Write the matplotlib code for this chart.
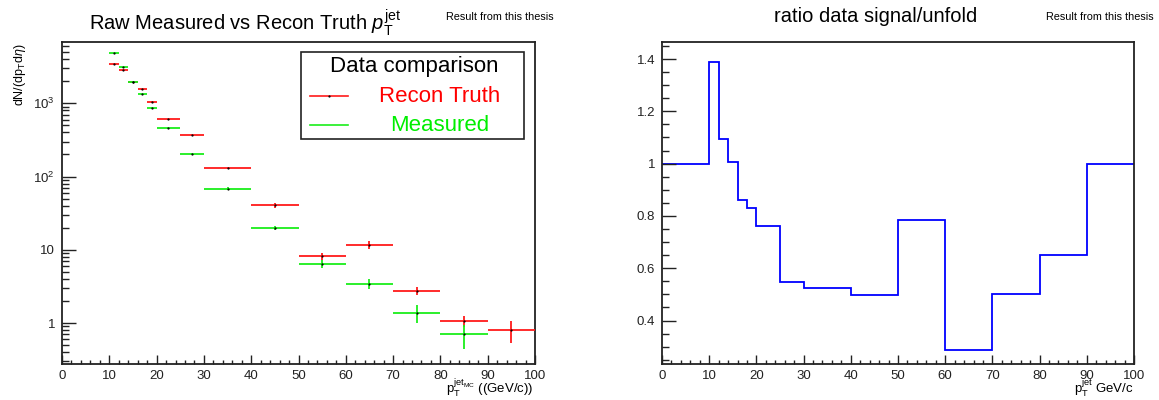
import matplotlib
matplotlib.use("Agg")
import matplotlib.pyplot as plt
import numpy as np
from matplotlib.patches import Rectangle
from matplotlib.ticker import MultipleLocator, FixedLocator, FixedFormatter, LogLocator, NullFormatter, FuncFormatter

plt.rcParams["font.family"] = ["Liberation Sans", "DejaVu Sans"]
plt.rcParams["mathtext.fontset"] = "custom"
plt.rcParams["mathtext.rm"] = "Liberation Sans"
plt.rcParams["mathtext.it"] = "Liberation Sans:italic"
plt.rcParams["mathtext.bf"] = "Liberation Sans:bold"

# ==========================
# Data
# ==========================

# bin edges of the jet pT spectra (GeV/c)
edges = [10, 12, 14, 16, 18, 20, 25, 30, 40, 50, 60, 70, 80, 90, 100]

truth = [3470, 2820, 1970, 1550, 1050, 611, 373, 130, 40.6, 8.2, 11.8, 2.75, 1.06, 0.81]
truth_err = [30, 25, 20, 16, 13, 7, 5, 4, 3, 0.85, 1.4, 0.36, 0.18, 0.27]

measured = [4850, 3100, 1950, 1340, 871, 464, 205, 68.4, 20.1, 6.43, 3.46, 1.39, 0.70]
measured_err = [40, 30, 20, 15, 11, 6, 4, 3, 1.3, 0.8, 0.57, 0.38, 0.25]

# ratio histogram
ratio_edges = [0, 10, 12, 14, 16, 18, 20, 25, 30, 40, 50, 60, 70, 80, 90, 100]
ratio = [1.0, 1.39, 1.095, 1.005, 0.86, 0.83, 0.763, 0.548, 0.526, 0.497,
         0.785, 0.289, 0.50, 0.652, 1.0]

# ==========================
# Figure
# ==========================

W, H = 1159, 400
fig = plt.figure(figsize=(W / 100, H / 100), dpi=100)


def fx(px):
    return px / W


def fy(py):
    return 1 - py / H


ax1 = fig.add_axes([fx(62), fy(364), fx(535) - fx(62), fy(42) - fy(364)])
ax2 = fig.add_axes([fx(662), fy(364), fx(1134) - fx(662), fy(42) - fy(364)])


def root_style(ax):
    for s in ax.spines.values():
        s.set_linewidth(1.3)
        s.set_color("#222222")
    ax.tick_params(which="both", direction="in", top=False, right=False,
                   labelsize=9.5, width=1.0, colors="#222222")
    ax.tick_params(axis="x", which="major", length=6.7, pad=4)
    ax.tick_params(axis="x", which="minor", length=3.2)
    ax.tick_params(axis="y", which="major", length=10, pad=5)
    ax.tick_params(axis="y", which="minor", length=5)
    ax.xaxis.set_major_locator(MultipleLocator(10))
    ax.xaxis.set_minor_locator(MultipleLocator(2))
    ax.set_xlim(0, 100)


# -------- Left: spectra --------

e = np.array(edges, dtype=float)
centers = 0.5 * (e[:-1] + e[1:])
half = 0.5 * (e[1:] - e[:-1])
nm = len(measured)

ax1.errorbar(centers, truth, xerr=half, yerr=truth_err, fmt=".", ms=1.2,
             color="k", ecolor="#ff1a1a", elinewidth=1.3, capsize=0, zorder=3)
ax1.errorbar(centers[:nm], measured, xerr=half[:nm], yerr=measured_err, fmt=".",
             ms=1.2, color="k", ecolor="#1aee1a", elinewidth=1.3, capsize=0, zorder=3)

ax1.set_yscale("log")
ax1.set_ylim(0.277, 6855)
root_style(ax1)
ax1.yaxis.set_major_locator(FixedLocator([1, 10, 100, 1000]))
ax1.yaxis.set_major_formatter(FixedFormatter(["1", "10", "$10^{2}$", "$10^{3}$"]))
ax1.yaxis.set_minor_locator(LogLocator(base=10, subs=np.arange(2, 10)))
ax1.yaxis.set_minor_formatter(NullFormatter())

# legend box drawn like the ROOT TLegend
tr = ax1.transAxes
ax1.add_patch(Rectangle((0.505, 0.698), 0.472, 0.270, transform=tr,
                        fill=True, facecolor="white", edgecolor="#222222",
                        linewidth=1.2, zorder=5))
ax1.text(0.745, 0.907, "Data comparison", transform=tr, ha="center",
         va="baseline", fontsize=16, zorder=6)
ax1.plot([0.524, 0.605], [0.833, 0.833], transform=tr, color="#ff1a1a",
         lw=1.2, zorder=6)
ax1.plot([0.5645], [0.833], transform=tr, marker=".", ms=1.2, color="k", zorder=7)
ax1.text(0.799, 0.814, "Recon Truth", transform=tr, ha="center",
         va="baseline", fontsize=16, color="#ff0000", zorder=6)
ax1.plot([0.524, 0.605], [0.742, 0.742], transform=tr, color="#1aee1a",
         lw=1.2, zorder=6)
ax1.text(0.799, 0.7245, "Measured", transform=tr, ha="center",
         va="baseline", fontsize=16, color="#00ee00", zorder=6)

# -------- Right: ratio --------

ax2.stairs(ratio, ratio_edges, baseline=None, color="#0000ff", lw=1.3)
ax2.set_ylim(0.234, 1.465)
root_style(ax2)
ax2.yaxis.set_major_locator(MultipleLocator(0.2))
ax2.yaxis.set_minor_locator(MultipleLocator(0.05))
ax2.yaxis.set_major_formatter(FuncFormatter(lambda v, p: f"{v:g}"))

# ==========================
# Titles and labels
# ==========================

fig.text(fx(89), fy(30), r"Raw Measured vs Recon Truth $p_{\mathrm{T}}^{\mathrm{jet}}$",
         fontsize=14.5, va="baseline", ha="left")
fig.text(fx(876), fy(22), "ratio data signal/unfold", fontsize=14.5,
         va="baseline", ha="center")
fig.text(fx(446), fy(20.5), "Result from this thesis", fontsize=7.8, va="baseline")
fig.text(fx(1046), fy(20.5), "Result from this thesis", fontsize=7.8, va="baseline")

fig.text(fx(533), fy(393), r"$\mathrm{p}_{\mathrm{T}}^{\mathrm{jet}_{\mathrm{MC}}}$ ((GeV/c))",
         fontsize=9.5, ha="right", va="baseline")
fig.text(fx(1134), fy(393), r"$\mathrm{p}_{\mathrm{T}}^{\mathrm{jet}}$ GeV/c",
         fontsize=9.5, ha="right", va="baseline")
fig.text(fx(20), fy(43), r"dN/(d$\mathrm{p}_{\mathrm{T}}$d$\eta$)", fontsize=9,
         rotation=90, ha="center", va="top")

fig.savefig("out.png", dpi=100)
